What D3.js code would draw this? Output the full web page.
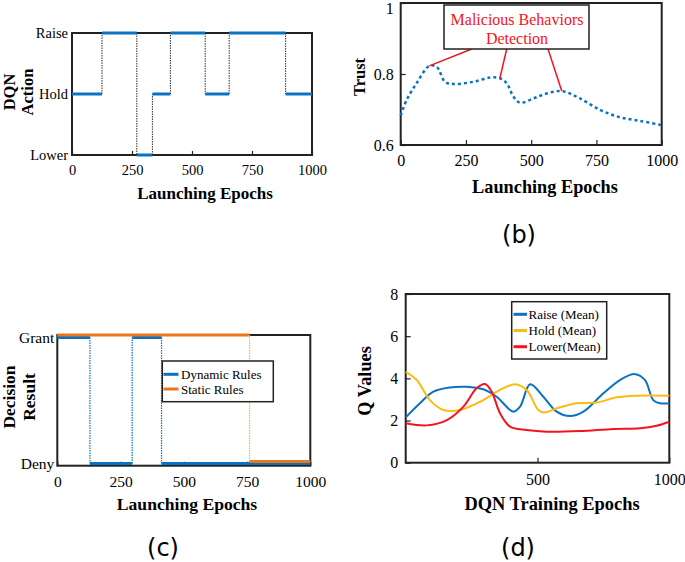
<!DOCTYPE html>
<html><head><meta charset="utf-8">
<script src="https://cdn.jsdelivr.net/npm/d3@7"></script>
<style>
body{margin:0;background:#fff;}
svg{display:block;}
text{font-family:"Liberation Serif","Times New Roman",serif;fill:#000;}
</style></head><body>
<svg id="chart" width="685" height="562"></svg>
<script>
// ---------- (a) DQN action ----------
const actionLevels = ["Lower", "Hold", "Raise"];
const actionStarts = [0, 125, 270, 335, 410, 555, 655, 890];
const actionValues = ["Hold", "Raise", "Lower", "Hold", "Raise", "Hold", "Raise", "Hold"];
const epochTicks = [0, 250, 500, 750, 1000];
const epochEnd = 1000;

// ---------- (b) Trust ----------
const trustEpochs = [0, 23, 61, 110, 138, 170, 202, 278, 342, 380, 406, 432, 457, 508, 559, 617, 687, 764, 840, 917, 1000];
const trustValues = [0.683, 0.727, 0.774, 0.823, 0.82, 0.778, 0.772, 0.778, 0.79, 0.788, 0.774, 0.736, 0.719, 0.731, 0.745, 0.752, 0.731, 0.699, 0.678, 0.668, 0.656];
const trustTicks = [0.6, 0.8, 1];
const maliciousEpochs = [110, 380, 617];
const maliciousValues = [0.823, 0.788, 0.752];
const annotationLines = ["Malicious Behaviors", "Detection"];

// ---------- (c) Decision result ----------
const decisionLevels = ["Deny", "Grant"];
const ruleNames = ["Dynamic Rules", "Static Rules"];
const dynamicStarts = [0, 129, 296, 412];
const dynamicValues = [1, 0, 1, 0];
const staticStarts = [0, 760];
const staticValues = [1.02, 0.016];

// ---------- (d) Q values ----------
const qSeriesNames = ["Raise (Mean)", "Hold (Mean)", "Lower(Mean)"];
const raiseEpochs = [0, 54, 105, 168, 231, 294, 345, 408, 434, 472, 522, 573, 623, 674, 750, 813, 870, 908, 939, 965, 1000];
const raiseQ = [2.15, 2.82, 3.37, 3.57, 3.6, 3.48, 3.13, 2.42, 2.66, 3.72, 3.13, 2.42, 2.21, 2.42, 3.29, 3.92, 4.2, 3.92, 2.97, 2.82, 2.82];
const holdEpochs = [0, 42, 92, 143, 206, 282, 358, 415, 459, 503, 525, 573, 649, 725, 800, 876, 1000];
const holdQ = [4.31, 3.92, 2.97, 2.5, 2.5, 2.89, 3.45, 3.72, 3.45, 2.5, 2.38, 2.58, 2.82, 2.85, 3.1, 3.18, 3.18];
const lowerEpochs = [0, 80, 156, 219, 269, 301, 326, 358, 396, 459, 535, 661, 788, 889, 952, 1000];
const lowerQ = [1.87, 1.77, 2.02, 2.66, 3.53, 3.73, 3.37, 2.34, 1.71, 1.55, 1.47, 1.5, 1.6, 1.63, 1.75, 1.94];
const qTicks = [0, 2, 4, 6, 8];
const qEpochTicks = [500, 1000];

const panelLabels = ["(b)", "(c)", "(d)"];

// ---------- styles ----------
const BLUE = "#0a72c2", ORANGE = "#e8781e", STATIC_V = "#f5be1e", YELLOW = "#fbbb12", RED = "#f5141e";
const svg = d3.select("#chart");
svg.append("rect").attr("width", 685).attr("height", 562).attr("fill", "#fff");

function frame(g, x, y) {
  g.append("rect")
    .attr("x", x.range()[0]).attr("y", y.range()[1])
    .attr("width", x.range()[1] - x.range()[0])
    .attr("height", y.range()[0] - y.range()[1])
    .attr("fill", "none").attr("stroke", "#222").attr("stroke-width", 2);
}
function styleAxis(sel, size) {
  sel.select(".domain").remove();
  sel.selectAll(".tick line").attr("stroke", "#222").attr("stroke-width", 1.2);
  sel.selectAll("text").attr("font-size", size).attr("font-family", '"Liberation Serif","Times New Roman",serif').attr("fill", "#000");
}
function xTitle(g, text, cx, y, size) {
  g.append("text").attr("x", cx).attr("y", y).attr("text-anchor", "middle")
    .attr("font-weight", "bold").attr("font-size", size).text(text);
}
function yTitle(g, lines, xs, cy, size) {
  lines.forEach((t, i) => {
    g.append("text").attr("transform", `translate(${xs[i]},${cy}) rotate(-90)`)
      .attr("text-anchor", "middle").attr("font-weight", "bold").attr("font-size", size).text(t);
  });
}

// ================= Panel (a) =================
{
  const g = svg.append("g");
  const x = d3.scaleLinear().domain([0, epochEnd]).range([72, 312]);
  const y = d3.scalePoint().domain(actionLevels).range([155, 33]);
  g.append("g").attr("transform", "translate(0,155)")
    .call(d3.axisBottom(x).tickValues(epochTicks).tickFormat(d3.format("d")).tickSize(-4).tickPadding(10))
    .call(s => styleAxis(s, 14.5));
  g.append("g").attr("transform", "translate(72,0)")
    .call(d3.axisLeft(y).tickSize(0).tickPadding(4))
    .call(s => styleAxis(s, 14.5));
  const segs = actionStarts.map((s, i) => ({ x0: s, x1: i < actionStarts.length - 1 ? actionStarts[i + 1] : epochEnd, v: actionValues[i] }));
  g.selectAll(".conn").data(segs.slice(1)).join("line")
    .attr("x1", (d) => x(d.x0)).attr("x2", (d) => x(d.x0))
    .attr("y1", (d, i) => y(segs[i].v)).attr("y2", (d) => y(d.v))
    .attr("stroke", "#333").attr("stroke-width", 1).attr("stroke-dasharray", "1.5,1");
  frame(g, x, y.copy().range([155, 33]));
  g.selectAll(".seg").data(segs).join("line")
    .attr("x1", (d) => x(d.x0)).attr("x2", (d) => x(d.x1))
    .attr("y1", (d) => y(d.v)).attr("y2", (d) => y(d.v))
    .attr("stroke", BLUE).attr("stroke-width", 3);
  xTitle(g, "Launching Epochs", 205, 199, 17);
  yTitle(g, ["DQN", "Action"], [15, 33], 92, 16.5);
}

// ================= Panel (b) =================
{
  const g = svg.append("g");
  const x = d3.scaleLinear().domain([0, epochEnd]).range([400.7, 661.7]);
  const y = d3.scaleLinear().domain([0.6, 1]).range([145, 3]);
  g.append("g").attr("transform", "translate(0,145)")
    .call(d3.axisBottom(x).tickValues(epochTicks).tickFormat(d3.format("d")).tickSize(-5).tickPadding(10))
    .call(s => styleAxis(s, 16));
  g.append("g").attr("transform", "translate(400.7,0)")
    .call(d3.axisLeft(y).tickValues(trustTicks).tickFormat(d => d === 1 ? "1" : d3.format(".1f")(d)).tickSize(-5).tickPadding(7))
    .call(s => styleAxis(s, 16))
    .call(s => s.selectAll(".tick text").filter(d => d === 1).attr("dy", "0.68em"));
  frame(g, x, y);
  const line = d3.line().x((d, i) => x(trustEpochs[i])).y(d => y(d)).curve(d3.curveCatmullRom.alpha(0.5));
  g.append("path").datum(trustValues).attr("d", line)
    .attr("fill", "none").attr("stroke", BLUE).attr("stroke-width", 2.5).attr("stroke-dasharray", "3,3");
  const starts = [471.7, 506.7, 548];
  g.selectAll(".ptr").data(maliciousEpochs).join("line")
    .attr("x1", (d, i) => starts[i]).attr("y1", 49)
    .attr("x2", (d) => x(d)).attr("y2", (d, i) => y(maliciousValues[i]))
    .attr("stroke", RED).attr("stroke-width", 1.5);
  g.append("rect").attr("x", 444).attr("y", 5).attr("width", 145).attr("height", 44)
    .attr("fill", "#fff").attr("stroke", "#222").attr("stroke-width", 1.5);
  annotationLines.forEach((t, i) => {
    g.append("text").attr("x", 517).attr("y", 24.5 + i * 19).attr("text-anchor", "middle")
      .attr("font-size", 16).style("fill", RED).text(t);
  });
  xTitle(g, "Launching Epochs", 545, 193, 18.3);
  yTitle(g, ["Trust"], [365], 77, 16.5);
}

// ================= Panel (c) =================
{
  const g = svg.append("g");
  const x = d3.scaleLinear().domain([0, epochEnd]).range([57.3, 310.3]);
  const y = d3.scaleLinear().domain([0, 1]).range([463.5, 337.5]);
  g.append("g").attr("transform", "translate(0,465.7)")
    .call(d3.axisBottom(x).tickValues(epochTicks).tickFormat(d3.format("d")).tickSize(-4).tickPadding(10))
    .call(s => styleAxis(s, 15.5));
  g.append("g").attr("transform", "translate(57.3,0)")
    .call(d3.axisLeft(y).tickValues([0, 1]).tickFormat((d) => decisionLevels[d]).tickSize(0).tickPadding(3))
    .call(s => styleAxis(s, 15.5));
  g.append("rect").attr("x", 57.3).attr("y", 335).attr("width", 253).attr("height", 130.7)
    .attr("fill", "none").attr("stroke", "#222").attr("stroke-width", 2);
  function steps(starts, vals, color, vcolor) {
    const segs = starts.map((s, i) => ({ x0: s, x1: i < starts.length - 1 ? starts[i + 1] : epochEnd, v: vals[i] }));
    g.append("g").selectAll("line").data(segs.slice(1)).join("line")
      .attr("x1", (d) => x(d.x0)).attr("x2", (d) => x(d.x0))
      .attr("y1", (d, i) => y(segs[i].v)).attr("y2", (d) => y(d.v))
      .attr("stroke", vcolor).attr("stroke-width", 1.2).attr("stroke-dasharray", "1.5,1");
    g.append("g").selectAll("line").data(segs).join("line")
      .attr("x1", (d) => x(d.x0)).attr("x2", (d) => x(d.x1))
      .attr("y1", (d) => y(d.v)).attr("y2", (d) => y(d.v))
      .attr("stroke", color).attr("stroke-width", 3);
  }
  steps(dynamicStarts, dynamicValues, BLUE, BLUE);
  steps(staticStarts, staticValues, ORANGE, STATIC_V);
  const lg = g.append("g");
  lg.append("rect").attr("x", 162.3).attr("y", 361).attr("width", 111).attr("height", 40.7)
    .attr("fill", "#fff").attr("stroke", "#222").attr("stroke-width", 1.5);
  [BLUE, ORANGE].forEach((c, i) => {
    lg.append("line").attr("x1", 163.5).attr("x2", 178.5).attr("y1", 374.3 + i * 14.7).attr("y2", 374.3 + i * 14.7)
      .attr("stroke", c).attr("stroke-width", 3);
    lg.append("text").attr("x", 181).attr("y", 378.8 + i * 14.7).attr("font-size", 13).text(ruleNames[i]);
  });
  xTitle(g, "Launching Epochs", 187, 510, 17.6);
  yTitle(g, ["Decision", "Result"], [15, 35], 397, 17.5);
}

// ================= Panel (d) =================
{
  const g = svg.append("g");
  const x = d3.scaleLinear().domain([0, epochEnd]).range([405.7, 669.3]);
  const y = d3.scaleLinear().domain([0, 8]).range([462.7, 294]);
  g.append("g").attr("transform", "translate(0,462.7)")
    .call(d3.axisBottom(x).tickValues(qEpochTicks).tickFormat(d3.format("d")).tickSize(-5).tickPadding(11))
    .call(s => styleAxis(s, 16));
  g.append("g").attr("transform", "translate(405.7,0)")
    .call(d3.axisLeft(y).tickValues(qTicks).tickSize(-5).tickPadding(7.5))
    .call(s => styleAxis(s, 16));
  frame(g, x, y);
  const series = [
    { ep: raiseEpochs, v: raiseQ, c: BLUE },
    { ep: holdEpochs, v: holdQ, c: YELLOW },
    { ep: lowerEpochs, v: lowerQ, c: RED },
  ];
  series.forEach((s) => {
    const line = d3.line().x((d, i) => x(s.ep[i])).y((d) => y(d)).curve(d3.curveCatmullRom.alpha(0.5));
    g.append("path").datum(s.v).attr("d", line).attr("fill", "none").attr("stroke", s.c).attr("stroke-width", 2);
  });
  const lg = g.append("g");
  lg.append("rect").attr("x", 511.7).attr("y", 301.7).attr("width", 95).attr("height", 57.3)
    .attr("fill", "#fff").attr("stroke", "#222").attr("stroke-width", 1.5);
  series.forEach((s, i) => {
    const yy = 314.3 + i * 16.2;
    lg.append("line").attr("x1", 513.5).attr("x2", 527).attr("y1", yy).attr("y2", yy).attr("stroke", s.c).attr("stroke-width", 3);
    lg.append("text").attr("x", 528.5).attr("y", yy + 4.5).attr("font-size", 13).text(qSeriesNames[i]);
  });
  xTitle(g, "DQN Training Epochs", 552, 510, 18.4);
  yTitle(g, ["Q Values"], [371], 381, 18.3);
}

// panel labels
const labelPos = [[519, 243], [163, 556], [518, 556]];
panelLabels.forEach((t, i) => {
  svg.append("text").attr("x", labelPos[i][0]).attr("y", labelPos[i][1]).attr("text-anchor", "middle")
    .style("font-family", '"DejaVu Sans",sans-serif')
    .attr("font-size", 24).text(t);
});
</script>
</body></html>
